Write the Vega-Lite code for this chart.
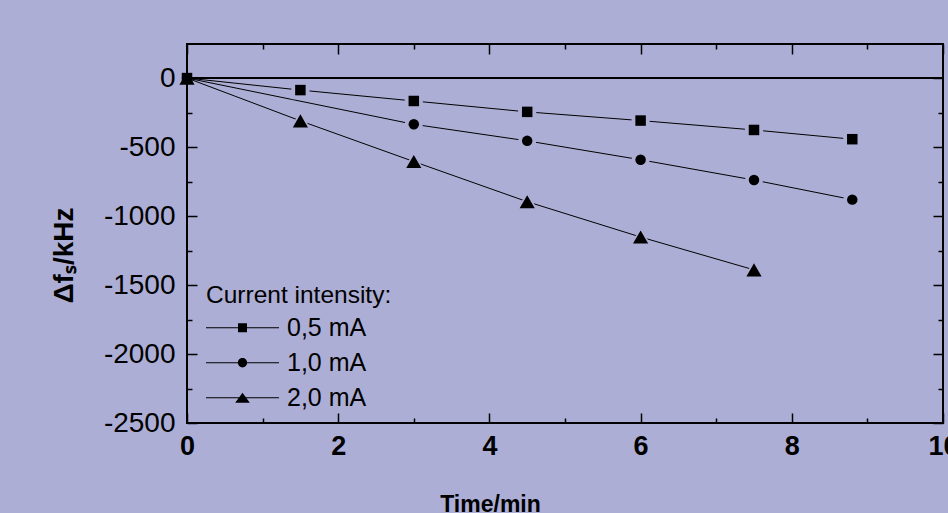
{
  "$schema": "https://vega.github.io/schema/vega-lite/v6.json",
  "autosize": {"type": "none"},
  "padding": {"left": 187, "top": 44, "right": 5, "bottom": 90},
  "width": 756,
  "height": 379,
  "background": "#ADAED5",
  "config": {
    "font": "Liberation Sans",
    "view": {"stroke": "black", "strokeWidth": 2, "fill": "#ADAED5"},
    "axis": {
      "domain": false, "grid": false, "tickColor": "black", "tickWidth": 1.5,
      "labelColor": "black", "titleColor": "black",
      "labelFont": "Liberation Sans", "titleFont": "Liberation Sans"
    },
    "legend": {
      "titleFont": "Liberation Sans", "labelFont": "Liberation Sans",
      "orient": "none", "legendX": 19, "legendY": 240,
      "titleFontSize": 24.5, "titleFontWeight": "normal", "titleColor": "black",
      "titlePadding": 2, "titleAnchor": "start", "titleLimit": 400,
      "labelFontSize": 25, "labelColor": "black", "labelOffset": 8,
      "symbolSize": 5329, "clipHeight": 34.5, "rowPadding": 0, "padding": 0,
      "symbolStrokeWidth": 0, "symbolFillColor": "black"
    }
  },
  "datasets": {
    "meas": [
      {"t": 0, "df": 0, "series": "0,5 mA"},
      {"t": 1.5, "df": -87, "series": "0,5 mA"},
      {"t": 3, "df": -166, "series": "0,5 mA"},
      {"t": 4.5, "df": -245, "series": "0,5 mA"},
      {"t": 6, "df": -308, "series": "0,5 mA"},
      {"t": 7.5, "df": -376, "series": "0,5 mA"},
      {"t": 8.8, "df": -443, "series": "0,5 mA"},
      {"t": 0, "df": 0, "series": "1,0 mA"},
      {"t": 3, "df": -335, "series": "1,0 mA"},
      {"t": 4.5, "df": -455, "series": "1,0 mA"},
      {"t": 6, "df": -592, "series": "1,0 mA"},
      {"t": 7.5, "df": -739, "series": "1,0 mA"},
      {"t": 8.8, "df": -881, "series": "1,0 mA"},
      {"t": 0, "df": 0, "series": "2,0 mA"},
      {"t": 1.5, "df": -310, "series": "2,0 mA"},
      {"t": 3, "df": -605, "series": "2,0 mA"},
      {"t": 4.5, "df": -896, "series": "2,0 mA"},
      {"t": 6, "df": -1152, "series": "2,0 mA"},
      {"t": 7.5, "df": -1390, "series": "2,0 mA"}
    ],
    "zero": [{"a": 0, "b": 10, "v": 0}]
  },
  "layer": [
    {
      "data": {"name": "zero"},
      "mark": {"type": "rule", "color": "black", "strokeWidth": 2},
      "encoding": {
        "x": {"field": "a", "type": "quantitative", "scale": {"domain": [0, 10], "nice": false, "zero": false},
              "axis": {"orient": "top", "values": [1, 3, 5, 7, 9], "tickSize": -5, "labels": false, "title": null}},
        "x2": {"field": "b"},
        "y": {"field": "v", "type": "quantitative", "scale": {"domain": [-2500, 247], "nice": false, "zero": false},
              "axis": {"orient": "right", "values": [-2250, -1750, -1250, -750, -250], "tickSize": -5, "labels": false, "title": null}}
      }
    },
    {
      "data": {"name": "meas"},
      "mark": {"type": "line", "color": "black", "strokeWidth": 1},
      "encoding": {
        "x": {"field": "t", "type": "quantitative", "scale": {"domain": [0, 10], "nice": false, "zero": false},
              "axis": {"orient": "bottom", "values": [0, 2, 4, 6, 8, 10], "tickSize": -10, "labelPadding": 20,
                       "labelFontSize": 27, "labelFontWeight": "bold", "labelFlush": false, "labelOverlap": false,
                       "labelExpr": "'' + datum.value",
                       "title": "Time/min", "titleFontSize": 23, "titleFontWeight": "bold",
                       "titleX": 303, "titleY": 88, "titleBaseline": "alphabetic", "titleAlign": "center"}},
        "y": {"field": "df", "type": "quantitative", "scale": {"domain": [-2500, 247], "nice": false, "zero": false},
              "axis": {"orient": "left", "values": [-2500, -2000, -1500, -1000, -500, 0], "tickSize": -10, "labelPadding": 22,
                       "labelFontSize": 28, "labelFontWeight": "normal", "labelFlush": false, "labelOverlap": false,
                       "labelExpr": "'' + datum.value",
                       "title": "Δfₛ/kHz", "titleFontSize": 28, "titleFontWeight": "bold", "titleAngle": 270,
                       "titleX": -115, "titleY": 211, "titleBaseline": "alphabetic", "titleAlign": "center"}},
        "detail": {"field": "series"}
      }
    },
    {
      "data": {"name": "meas"},
      "transform": [{"filter": "datum.t > 0"}],
      "mark": {"type": "point", "filled": true, "color": "#ADAED5", "opacity": 1},
      "encoding": {
        "x": {"field": "t", "type": "quantitative", "scale": {"domain": [0, 10], "nice": false, "zero": false},
              "axis": {"orient": "bottom", "values": [1, 3, 5, 7, 9], "tickSize": -5, "labels": false, "title": null}},
        "y": {"field": "df", "type": "quantitative", "scale": {"domain": [-2500, 247], "nice": false, "zero": false},
              "axis": {"orient": "left", "values": [-2250, -1750, -1250, -750, -250], "tickSize": -5, "labels": false, "title": null}},
        "shape": {"condition": [
                    {"test": "datum.series === '0,5 mA'", "value": "square"},
                    {"test": "datum.series === '1,0 mA'", "value": "circle"}
                  ], "value": "triangle-up"},
        "size": {"condition": {"test": "datum.series === '2,0 mA'", "value": 520}, "value": 330}
      }
    },
    {
      "data": {"name": "meas"},
      "mark": {"type": "point", "filled": true, "color": "black", "opacity": 1},
      "encoding": {
        "x": {"field": "t", "type": "quantitative", "scale": {"domain": [0, 10], "nice": false, "zero": false},
              "axis": {"orient": "top", "values": [0, 2, 4, 6, 8, 10], "tickSize": -10, "labels": false, "title": null}},
        "y": {"field": "df", "type": "quantitative", "scale": {"domain": [-2500, 247], "nice": false, "zero": false},
              "axis": {"orient": "right", "values": [-2500, -2000, -1500, -1000, -500, 0], "tickSize": -10, "labels": false, "title": null}},
        "shape": {"condition": [
                    {"test": "datum.series === '0,5 mA'", "value": "square"},
                    {"test": "datum.series === '1,0 mA'", "value": "circle"}
                  ], "value": "triangle-up"},
        "size": {"condition": {"test": "datum.series === '2,0 mA'", "value": 230}, "value": 110}
      }
    },
    {
      "data": {"name": "meas"},
      "transform": [{"filter": "false"}],
      "mark": {"type": "point", "filled": true, "color": "black", "opacity": 1},
      "encoding": {
        "x": {"field": "t", "type": "quantitative", "scale": {"domain": [0, 10], "nice": false, "zero": false}, "axis": null},
        "y": {"field": "df", "type": "quantitative", "scale": {"domain": [-2500, 247], "nice": false, "zero": false}, "axis": null},
        "shape": {"field": "series", "type": "nominal",
                  "scale": {"domain": ["0,5 mA", "1,0 mA", "2,0 mA"],
                            "range": [
                              "M-1,-0.0164H1V0.0164H-1Z M-0.123,-0.123H0.123V0.123H-0.123Z",
                              "M-1,-0.0164H1V0.0164H-1Z M0.127,0 C0.127,0.07 0.07,0.127 0,0.127 C-0.07,0.127 -0.127,0.07 -0.127,0 C-0.127,-0.07 -0.07,-0.127 0,-0.127 C0.07,-0.127 0.127,-0.07 0.127,0 Z",
                              "M-1,-0.0164H1V0.0164H-1Z M0,-0.14 L0.2,0.14 L-0.2,0.14 Z"
                            ]},
                  "legend": {"title": "Current intensity:"}}
      }
    }
  ],
  "resolve": {"axis": {"x": "independent", "y": "independent"}}
}
